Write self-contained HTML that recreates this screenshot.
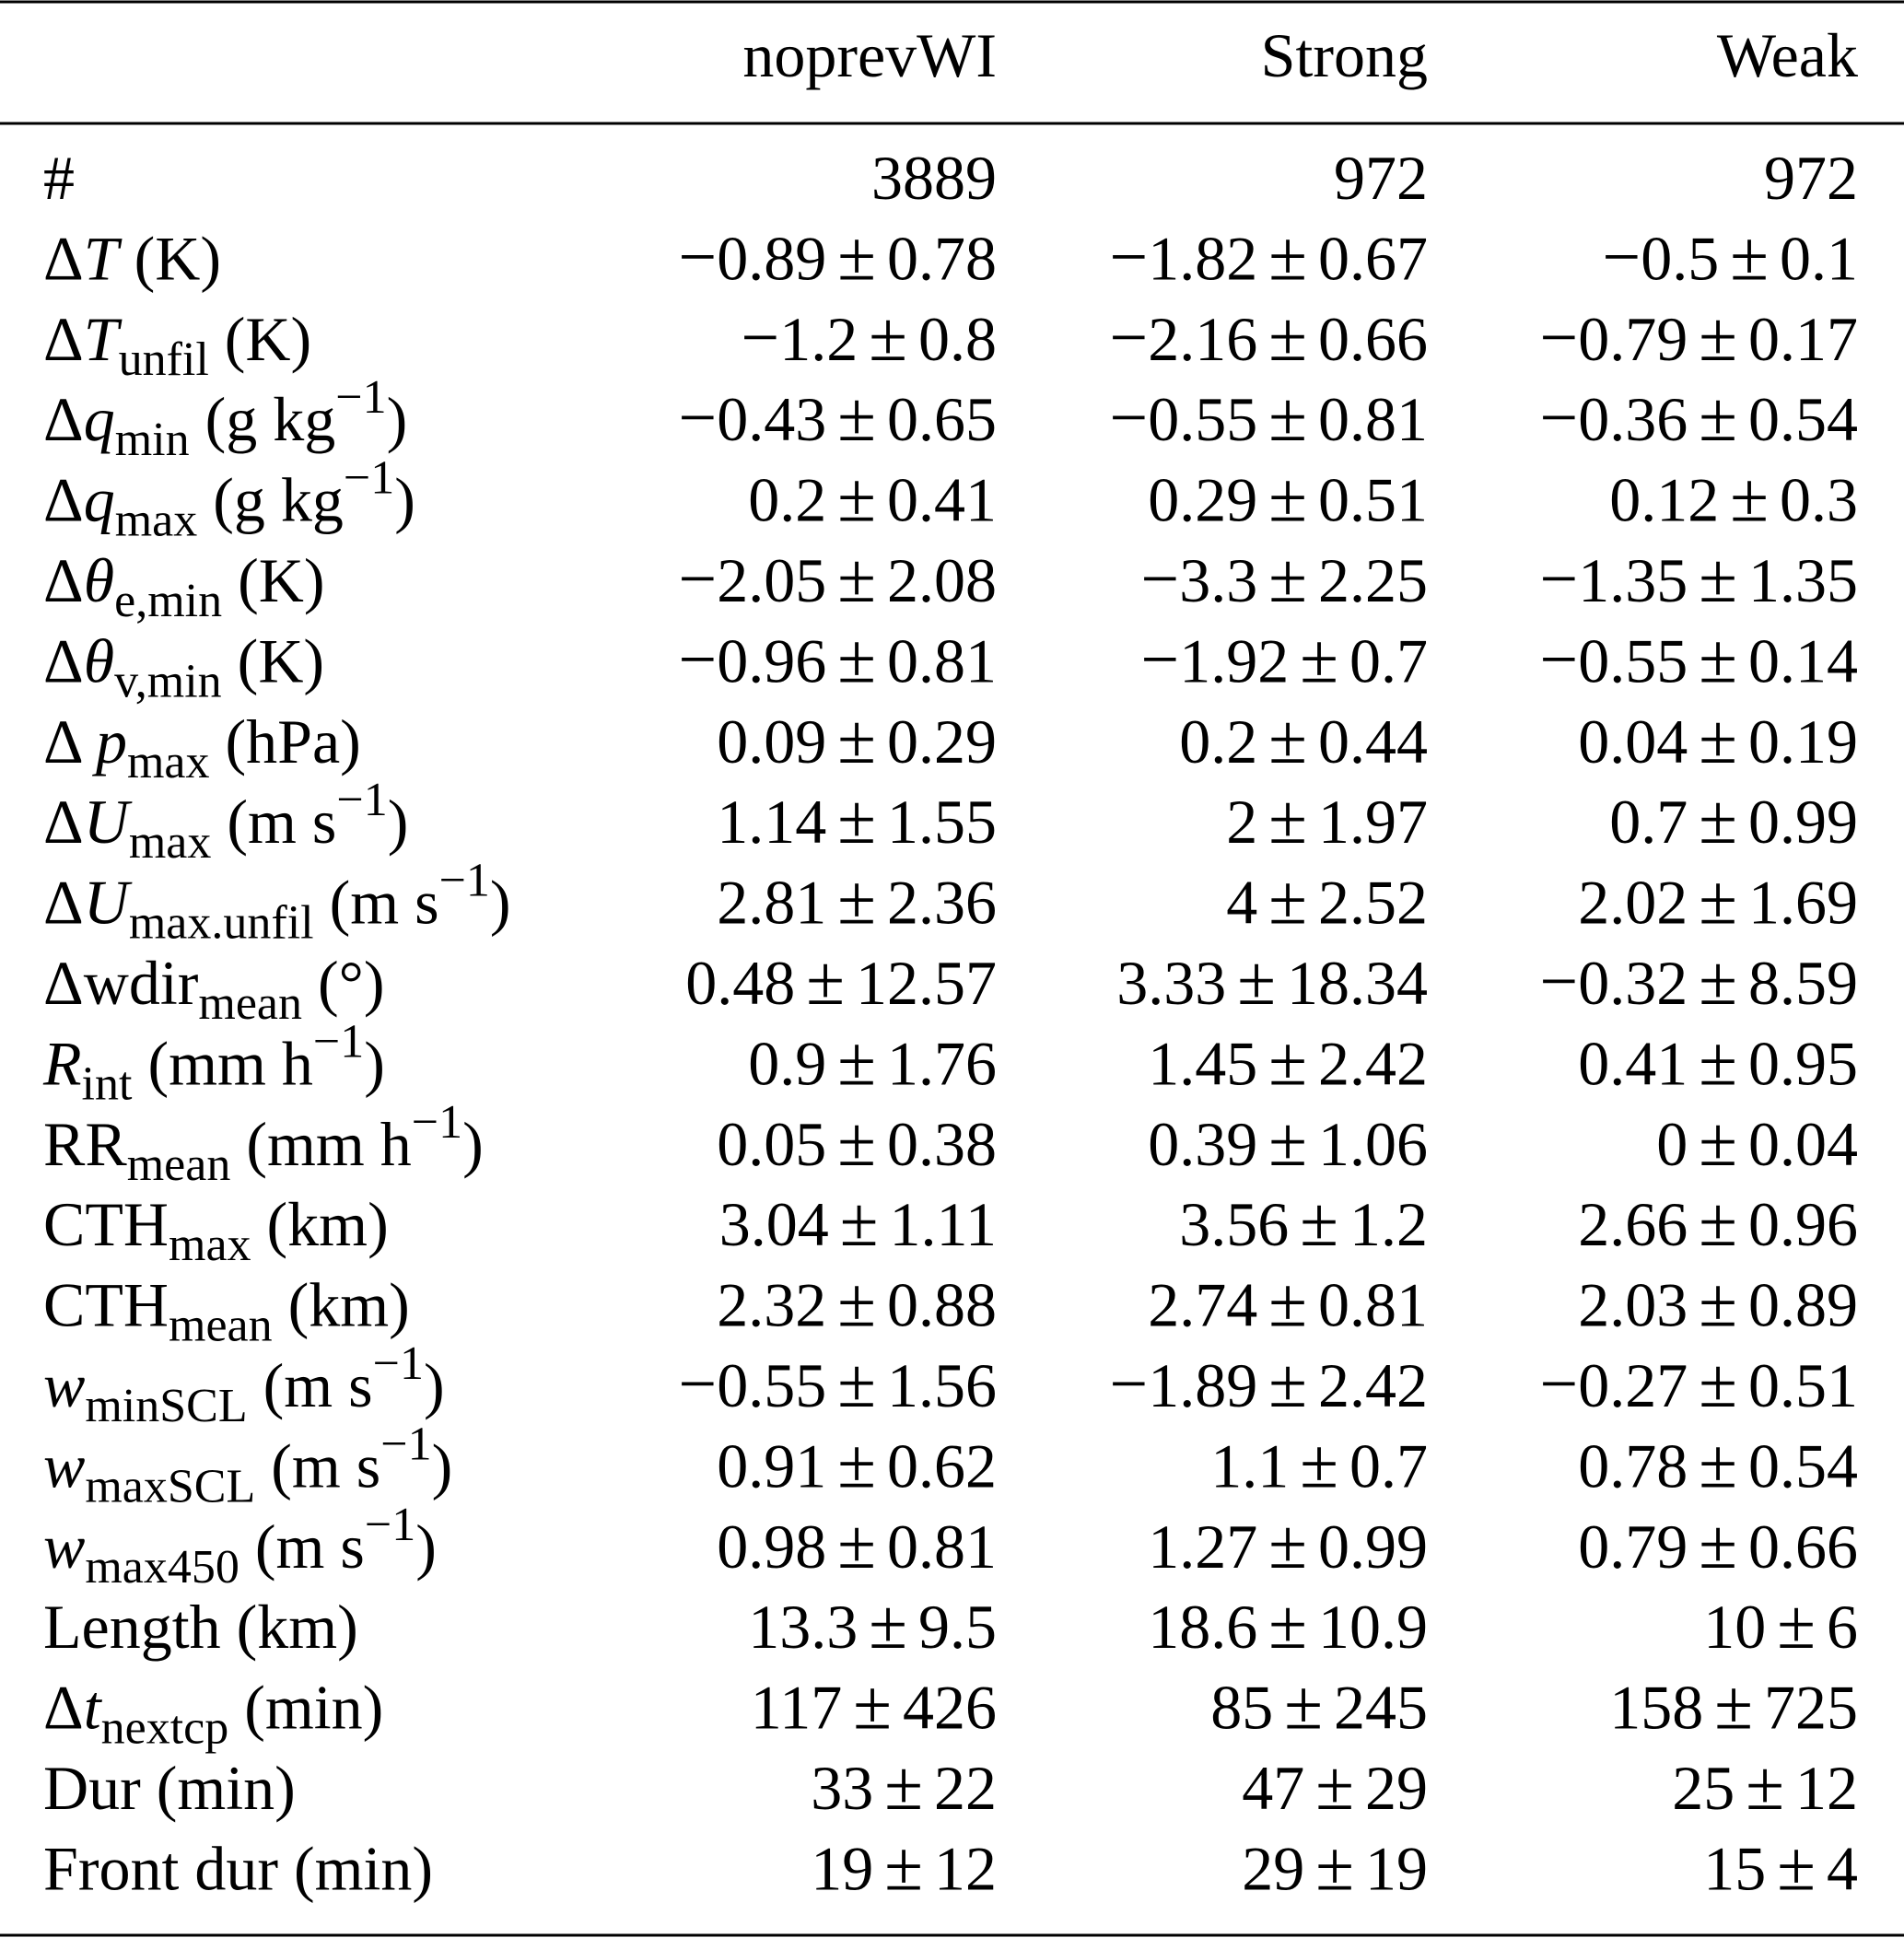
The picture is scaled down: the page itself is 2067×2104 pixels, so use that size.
<!DOCTYPE html>
<html><head><meta charset="utf-8"><style>
html,body{margin:0;padding:0;background:#fff;}
svg{display:block;font-family:"Liberation Serif",serif;}
</style></head><body>
<svg id="tbl" width="2067" height="2104" viewBox="0 0 2067 2104" xmlns="http://www.w3.org/2000/svg">
<line x1="0" x2="2067" y1="2" y2="2" stroke="#000" stroke-width="3"/>
<line x1="0" x2="2067" y1="134" y2="134" stroke="#000" stroke-width="3"/>
<line x1="0" x2="2067" y1="2101" y2="2101" stroke="#000" stroke-width="3"/>
<g font-size="68" fill="#000">
<text x="1082" y="83" text-anchor="end">noprevWI</text>
<text x="1550" y="83" text-anchor="end">Strong</text>
<text x="2017" y="83" text-anchor="end">Weak</text>
</g>
<g id="body" font-size="68" fill="#000"></g>
</svg>
<script>
const S='<tspan font-size="52" dy="16">', E='</tspan><tspan dy="-16">', P='<tspan font-size="52" dy="-30">', PE='</tspan><tspan dy="30">';
const labels=[
 '#',
 'Δ<tspan font-style="italic">T</tspan> (K)',
 'Δ<tspan font-style="italic">T</tspan>'+S+'unfil'+E+' (K)</tspan>',
 'Δ<tspan font-style="italic">q</tspan>'+S+'min'+E+' (g kg'+P+'−1'+PE+')</tspan></tspan>',
 'Δ<tspan font-style="italic">q</tspan>'+S+'max'+E+' (g kg'+P+'−1'+PE+')</tspan></tspan>',
 'Δ<tspan font-style="italic">θ</tspan>'+S+'e,min'+E+' (K)</tspan>',
 'Δ<tspan font-style="italic">θ</tspan>'+S+'v,min'+E+' (K)</tspan>',
 'Δ <tspan font-style="italic">p</tspan>'+S+'max'+E+' (hPa)</tspan>',
 'Δ<tspan font-style="italic">U</tspan>'+S+'max'+E+' (m s'+P+'−1'+PE+')</tspan></tspan>',
 'Δ<tspan font-style="italic">U</tspan>'+S+'max.unfil'+E+' (m s'+P+'−1'+PE+')</tspan></tspan>',
 'Δwdir'+S+'mean'+E+' (°)</tspan>',
 '<tspan font-style="italic">R</tspan>'+S+'int'+E+' (mm h'+P+'−1'+PE+')</tspan></tspan>',
 'RR'+S+'mean'+E+' (mm h'+P+'−1'+PE+')</tspan></tspan>',
 'CTH'+S+'max'+E+' (km)</tspan>',
 'CTH'+S+'mean'+E+' (km)</tspan>',
 '<tspan font-style="italic">w</tspan>'+S+'minSCL'+E+' (m s'+P+'−1'+PE+')</tspan></tspan>',
 '<tspan font-style="italic">w</tspan>'+S+'maxSCL'+E+' (m s'+P+'−1'+PE+')</tspan></tspan>',
 '<tspan font-style="italic">w</tspan>'+S+'max450'+E+' (m s'+P+'−1'+PE+')</tspan></tspan>',
 'Length (km)',
 'Δ<tspan font-style="italic">t</tspan>'+S+'nextcp'+E+' (min)</tspan>',
 'Dur (min)',
 'Front dur (min)'
];
const noprevWI=['3889','−0.89 ± 0.78','−1.2 ± 0.8','−0.43 ± 0.65','0.2 ± 0.41','−2.05 ± 2.08','−0.96 ± 0.81','0.09 ± 0.29','1.14 ± 1.55','2.81 ± 2.36','0.48 ± 12.57','0.9 ± 1.76','0.05 ± 0.38','3.04 ± 1.11','2.32 ± 0.88','−0.55 ± 1.56','0.91 ± 0.62','0.98 ± 0.81','13.3 ± 9.5','117 ± 426','33 ± 22','19 ± 12'];
const strong=['972','−1.82 ± 0.67','−2.16 ± 0.66','−0.55 ± 0.81','0.29 ± 0.51','−3.3 ± 2.25','−1.92 ± 0.7','0.2 ± 0.44','2 ± 1.97','4 ± 2.52','3.33 ± 18.34','1.45 ± 2.42','0.39 ± 1.06','3.56 ± 1.2','2.74 ± 0.81','−1.89 ± 2.42','1.1 ± 0.7','1.27 ± 0.99','18.6 ± 10.9','85 ± 245','47 ± 29','29 ± 19'];
const weak=['972','−0.5 ± 0.1','−0.79 ± 0.17','−0.36 ± 0.54','0.12 ± 0.3','−1.35 ± 1.35','−0.55 ± 0.14','0.04 ± 0.19','0.7 ± 0.99','2.02 ± 1.69','−0.32 ± 8.59','0.41 ± 0.95','0 ± 0.04','2.66 ± 0.96','2.03 ± 0.89','−0.27 ± 0.51','0.78 ± 0.54','0.79 ± 0.66','10 ± 6','158 ± 725','25 ± 12','15 ± 4'];
const g=document.getElementById('body');
const NS='http://www.w3.org/2000/svg';
const cols=[[noprevWI,1082],[strong,1550],[weak,2017]];
function esc(s){return s.replace(/&/g,'&amp;');}
labels.forEach((lab,i)=>{
  const y=216+i*87.4;
  const t=document.createElementNS(NS,'text');
  t.setAttribute('x',47);t.setAttribute('y',y);
  t.innerHTML=lab;
  
  
  g.appendChild(t);
  cols.forEach(c=>{
    const v=document.createElementNS(NS,'text');
    v.setAttribute('x',c[1]);v.setAttribute('y',y);v.setAttribute('text-anchor','end');
    v.setAttribute('xml:space','preserve');
    const parts=c[0][i].split(' ± ');
    let h=esc(parts[0]).replace('−','<tspan font-size="74">\u2212</tspan><tspan dx="8"></tspan>');
    if(parts.length>1) h+='<tspan dx="12" font-size="76">±</tspan><tspan dx="12">'+esc(parts[1])+'</tspan>';
    v.innerHTML=h;
    
    
    g.appendChild(v);
  });
});
</script>
</body></html>
